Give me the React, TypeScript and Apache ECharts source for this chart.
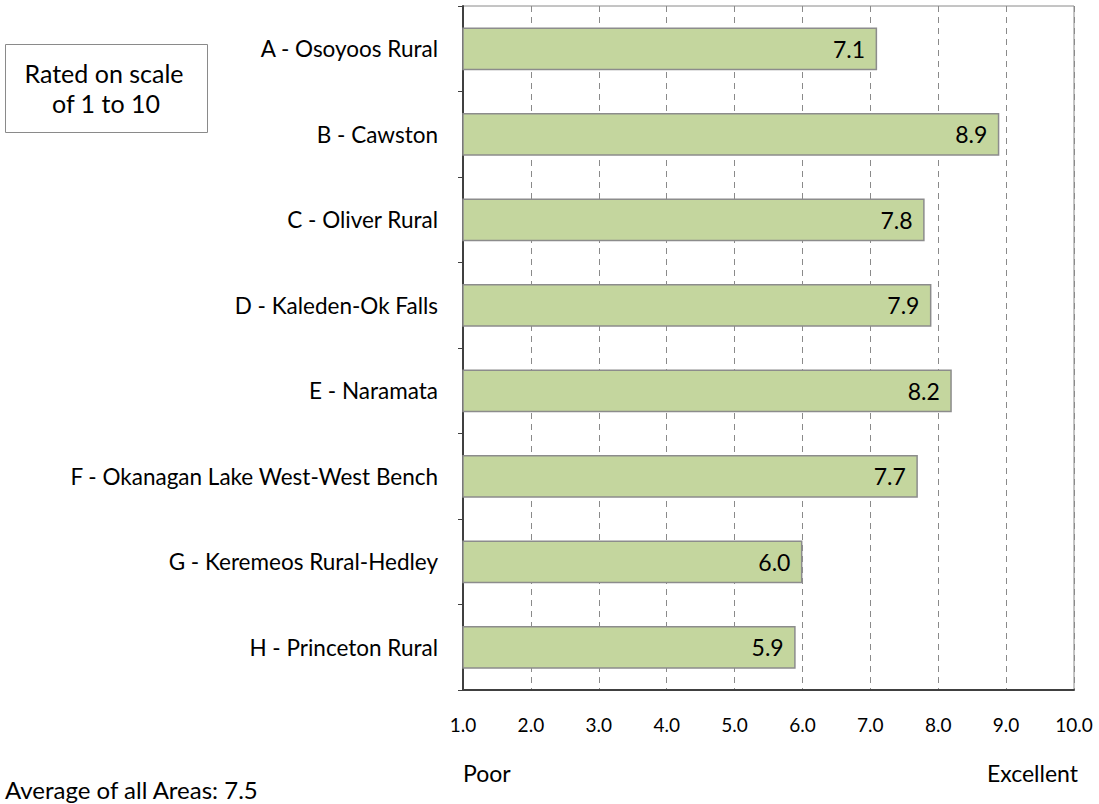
import React, { useEffect, useRef } from "react";
import * as echarts from "echarts";

const categories = [
  "A - Osoyoos Rural",
  "B - Cawston",
  "C - Oliver Rural",
  "D - Kaleden-Ok Falls",
  "E - Naramata",
  "F - Okanagan Lake West-West Bench",
  "G - Keremeos Rural-Hedley",
  "H - Princeton Rural",
];
const ratings = [7.1, 8.9, 7.8, 7.9, 8.2, 7.7, 6.0, 5.9];
const axisMin = 1;
const axisMax = 10;
const boxLines = ["Rated on scale", "of 1 to 10"];
const poorLabel = "Poor";
const excellentLabel = "Excellent";
const averageLabel = "Average of all Areas: 7.5";

const FONT = "Lato, 'Open Sans', sans-serif";

export default function App() {
  const ref = useRef<HTMLDivElement>(null);
  useEffect(() => {
    if (!ref.current) return;
    const chart = echarts.init(ref.current, undefined, { renderer: "svg" });
    chart.setOption({
      animation: false,
      textStyle: { fontFamily: FONT },
      grid: {
        left: 463,
        right: 25,
        top: 6,
        bottom: 114,
        show: true,
        borderColor: "#8a8a8a",
        borderWidth: 1,
        containLabel: false,
      },
      xAxis: {
        type: "value",
        min: axisMin,
        max: axisMax,
        interval: 1,
        axisLine: { show: true, lineStyle: { color: "#404040", width: 2 } },
        axisTick: { show: false },
        axisLabel: {
          formatter: (v: number) => v.toFixed(1),
          fontSize: 19,
          color: "#000",
          margin: 25,
          fontFamily: FONT,
        },
        splitLine: {
          show: true,
          lineStyle: { color: "#8a8a8a", type: [6, 5], width: 1 },
        },
      },
      yAxis: {
        type: "category",
        data: categories,
        inverse: true,
        axisLine: { show: true, lineStyle: { color: "#404040", width: 2 } },
        axisTick: {
          show: true,
          inside: false,
          length: 5,
          alignWithLabel: false,
          lineStyle: { color: "#404040", width: 1 },
        },
        axisLabel: {
          fontSize: 22.5,
          color: "#000",
          margin: 25,
          fontFamily: FONT,
        },
        splitLine: { show: false },
      },
      series: [
        {
          type: "bar",
          data: ratings,
          barWidth: "50%",
          itemStyle: {
            color: "#c4d69e",
            borderColor: "#8c8c8c",
            borderWidth: 1.5,
          },
          label: {
            show: true,
            position: "insideRight",
            distance: 12,
            formatter: (p: any) => Number(p.value).toFixed(1),
            fontSize: 23,
            color: "#000",
            fontFamily: FONT,
          },
        },
      ],
      graphic: [
        {
          type: "rect",
          shape: { x: 5.5, y: 44.5, width: 202, height: 88 },
          style: { fill: "#fff", stroke: "#8a8a8a", lineWidth: 1 },
        },
        {
          type: "text",
          x: 104,
          y: 73,
          style: {
            text: boxLines[0],
            font: `25px ${FONT}`,
            fill: "#000",
            align: "center",
            verticalAlign: "middle",
          },
        },
        {
          type: "text",
          x: 106,
          y: 103,
          style: {
            text: boxLines[1],
            font: `25px ${FONT}`,
            fill: "#000",
            align: "center",
            verticalAlign: "middle",
          },
        },
        {
          type: "text",
          x: 463,
          y: 773,
          style: {
            text: poorLabel,
            font: `23px ${FONT}`,
            fill: "#000",
            align: "left",
            verticalAlign: "middle",
          },
        },
        {
          type: "text",
          x: 1078,
          y: 773,
          style: {
            text: excellentLabel,
            font: `23px ${FONT}`,
            fill: "#000",
            align: "right",
            verticalAlign: "middle",
          },
        },
        {
          type: "text",
          x: 5,
          y: 789,
          style: {
            text: averageLabel,
            font: `24px ${FONT}`,
            fill: "#000",
            align: "left",
            verticalAlign: "middle",
          },
        },
      ],
    });
    return () => chart.dispose();
  }, []);
  return <div ref={ref} style={{ width: 1099, height: 804, position: "absolute", left: 0, top: 0 }} />;
}
